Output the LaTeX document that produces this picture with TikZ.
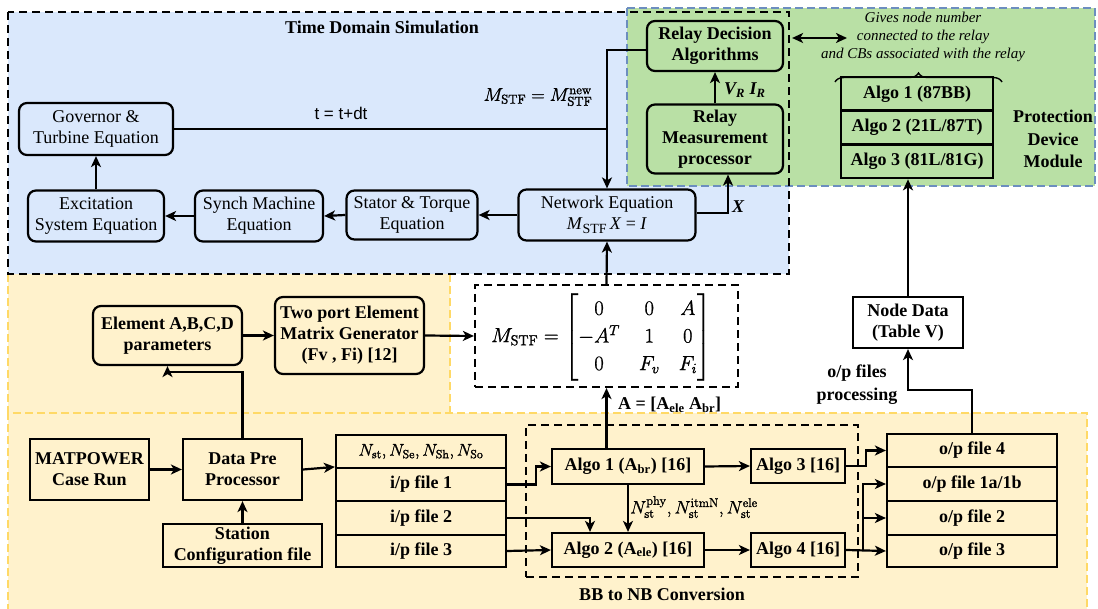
\RequirePackage{fix-cm}
\documentclass[tikz,border=0pt]{standalone}
\usepackage[no-math]{fontspec}
\setmainfont{Liberation Serif}
\newfontfamily\arialfont{Liberation Sans}
\usepackage{amsmath}
\usetikzlibrary{arrows.meta,decorations.pathreplacing}
\definecolor{simblue}{HTML}{DAE8FC}
\definecolor{protgreen}{HTML}{B9E0A5}
\definecolor{prepyellow}{HTML}{FFF2CC}
\definecolor{edgeblue}{HTML}{6C8EBF}
\definecolor{edgeyellow}{HTML}{FFD966}
% thin Computer Modern math gets a light outline stroke so it reads as dark as the text
\newcommand{\heavymath}[1]{\special{pdf:literal direct 2 Tr 0.22 w}#1\special{pdf:literal direct 0 Tr}}
\begin{document}
\begin{tikzpicture}[x=1pt,y=-1pt,
  every node/.style={font=\fontsize{18}{21}\selectfont, inner sep=0pt, align=center},
  rbox/.style={draw, line width=2.2pt, rounded corners=8pt},
  sbox/.style={draw, line width=2.2pt},
  stackbox/.style={draw, line width=2.6pt},
  conn/.style={line width=2.2pt},
  arr/.style={conn, -{Stealth[length=11pt,width=10pt,inset=3pt]}},
  darr/.style={conn, {Stealth[length=11pt,width=10pt,inset=3pt]}-{Stealth[length=11pt,width=10pt,inset=3pt]}},
  blackdash/.style={line width=2.4pt, dash pattern=on 8pt off 5pt},
  yellowdash/.style={draw=edgeyellow, line width=1.5pt, dash pattern=on 8pt off 4pt},
  bluedash/.style={draw=edgeblue, line width=1.8pt, dash pattern=on 8pt off 4pt},
  bf/.style={font=\fontsize{18}{21}\selectfont\bfseries},
  bfit/.style={font=\fontsize{18}{21}\selectfont\bfseries\itshape}
]
\useasboundingbox (0,0) rectangle (1098,609);

% ---- background regions ----
\fill[prepyellow] (8,250) rectangle (450,413);
\draw[yellowdash] (450,274) -- (450,413);
\draw[yellowdash] (8,274) -- (8,413);
\fill[prepyellow] (8,413) rectangle (1087,612);
\draw[yellowdash] (8,612) -- (8,413) -- (1087,413) -- (1087,612);
\fill[simblue] (8,12) rectangle (789,274);
\filldraw[fill=protgreen, bluedash] (627,8) rectangle (1095,186);
\draw[blackdash] (8,12) rectangle (789,274);

% ---- time domain simulation ----
\node[bf] (title) at (382,27) {Time Domain Simulation};
\node[rbox, minimum width=154pt, minimum height=52pt] (gov) at (96,129) {Governor \&\\Turbine Equation};
\node[rbox, minimum width=136pt, minimum height=51pt] (exc) at (96,216) {Excitation\\System Equation};
\node[rbox, minimum width=128pt, minimum height=51pt] (syn) at (259,216) {Synch Machine\\Equation};
\node[rbox, minimum width=131pt, minimum height=49pt] (sta) at (412,215) {Stator \& Torque\\Equation};
\node[rbox, minimum width=177pt, minimum height=51pt] (net) at (607,215)
  {Network Equation\\\textit{M}\raisebox{-4pt}{\fontsize{14}{14}\selectfont STF}\,\textit{X} = \textit{I}};

% ---- relay ----
\node[rbox, bf, minimum width=136pt, minimum height=50pt] (rda) at (715,46) {Relay Decision\\Algorithms};
\node[rbox, bf, minimum width=136pt, minimum height=69pt] (rmp) at (715,139) {Relay\\Measurement\\processor};
\node[anchor=west, bfit] (vi) at (724,90) {V\textsubscript{R} I\textsubscript{R}};
\node[bfit] (xl) at (738,207) {X};

% ---- protection device module ----
\node[stackbox, bf, minimum width=152pt, minimum height=33.7pt] (pa1) at (917,93.8) {Algo 1 (87BB)};
\node[stackbox, bf, minimum width=152pt, minimum height=33.7pt] (pa2) at (917,127.5) {Algo 2 (21L/87T)};
\node[stackbox, bf, minimum width=152pt, minimum height=33.7pt] (pa3) at (917,161.2) {Algo 3 (81L/81G)};
\node[bf, font=\fontsize{18}{22.5}\selectfont\bfseries] (pdm) at (1053,139) {Protection\\Device\\Module};
\node[font=\fontsize{15}{18}\selectfont\itshape] (note) at (923,37)
  {Gives node number\\connected to the relay\\and CBs associated with the relay};
\coordinate (noteL) at (847,38);
\draw[line width=1.4pt, decorate, decoration={brace, amplitude=9pt}] (835,82) -- (1002,82);

% ---- node data ----
\node[sbox, bf, minimum width=110pt, minimum height=51pt] (nd) at (908,322.5) {Node Data\\(Table V)};
\node[bf, font=\fontsize{18}{23}\selectfont\bfseries] (opproc) at (857,385) {o/p files\\processing};

% ---- matrix generation ----
\node[rbox, bf, minimum width=149pt, minimum height=59pt] (elem) at (167.5,335.5) {Element A,B,C,D\\parameters};
\node[rbox, bf, minimum width=149pt, minimum height=77pt] (twop) at (349.5,335.5) {Two port Element\\Matrix Generator\\(Fv , Fi) [12]};
\node[draw, blackdash, line width=2.2pt, minimum width=263pt, minimum height=102pt] (mat) at (606.5,336) {};

% ---- data pre-processing ----
\node[sbox, bf, minimum width=119pt, minimum height=61pt] (mp) at (89.5,469.5) {MATPOWER\\Case Run};
\node[sbox, bf, minimum width=119pt, minimum height=61pt] (dpp) at (242.5,469.5) {Data Pre\\Processor};
\node[sbox, bf, minimum width=159pt, minimum height=43pt] (scf) at (242.5,545.5) {Station\\Configuration file};
\node[sbox, minimum width=170pt, minimum height=33pt] (ip0) at (421,451.5) {};
\node[sbox, bf, minimum width=170pt, minimum height=33pt] (ip1) at (421,484.5) {i/p file 1};
\node[sbox, bf, minimum width=170pt, minimum height=34pt] (ip2) at (421,518) {i/p file 2};
\node[sbox, bf, minimum width=170pt, minimum height=32pt] (ip3) at (421,551) {i/p file 3};

% ---- BB to NB conversion ----
\node[draw, blackdash, line width=2.2pt, minimum width=332pt, minimum height=152pt] (bbnb) at (692,501) {};
\node[bf] (bbnblbl) at (662,594) {BB to NB Conversion};
\node[sbox, bf, minimum width=152pt, minimum height=35pt] (al1) at (628,466.5) {Algo 1 (A\textsubscript{br}) [16]};
\node[sbox, bf, minimum width=94pt, minimum height=34pt] (al3) at (798,466) {Algo 3 [16]};
\node[sbox, bf, minimum width=152pt, minimum height=34pt] (al2) at (628,550) {Algo 2 (A\textsubscript{ele}) [16]};
\node[sbox, bf, minimum width=94pt, minimum height=34pt] (al4) at (798,550) {Algo 4 [16]};

% ---- output files ----
\node[sbox, bf, minimum width=170pt, minimum height=33pt] (op4) at (972,450.5) {o/p file 4};
\node[sbox, bf, minimum width=170pt, minimum height=34pt] (opA) at (972,484) {o/p file 1a/1b};
\node[sbox, bf, minimum width=170pt, minimum height=34pt] (opB) at (972,518) {o/p file 2};
\node[sbox, bf, minimum width=170pt, minimum height=32pt] (opC) at (972,551) {o/p file 3};

% ---- plain labels ----
\node[font=\fontsize{17}{20}\selectfont\arialfont] (tdt) at (341,113) {t = t+dt};
\node[anchor=west, bf] (albl) at (618,405) {A = [A\textsubscript{ele} A\textsubscript{br}]};

% ---- math texts (drawn last) ----
\node[font=\fontsize{20.5}{24}\selectfont] (mateq) at (601,337)
  {\heavymath{$\setlength{\arraycolsep}{9.5pt}\renewcommand{\arraystretch}{1.15}M_{\mathrm{STF}} = \begin{bmatrix} 0 & 0 & A\\ -A^{T} & 1 & 0\\ 0 & F_{v} & F_{i}\end{bmatrix}$}};
\node[font=\fontsize{17}{20}\selectfont] (iptxt) at (ip0) {\heavymath{$N_{\mathrm{st}}, N_{\mathrm{Se}}, N_{\mathrm{Sh}}, N_{\mathrm{So}}$}};
\node[font=\fontsize{18.5}{21}\selectfont] (mnew) at (538,97) {\heavymath{$M_{\mathrm{STF}} = M_{\mathrm{STF}}^{\mathrm{new}}$}};
\node[anchor=west, font=\fontsize{18}{21}\selectfont] (nlbl) at (630,507)
  {\heavymath{$N_{\mathrm{st}}^{\mathrm{phy}}, N_{\mathrm{st}}^{\mathrm{itmN}}, N_{\mathrm{st}}^{\mathrm{ele}}$}};

% ---- connectors: time domain loop ----
\draw[arr] (net.west) -- (sta.east);
\draw[arr] (sta.west) -- (syn.east);
\draw[arr] (syn.west) -- (exc.east);
\draw[arr] (exc.north) -- (gov.south);
\draw[conn] (gov.east) -- (gov.east -| net.north);
\draw[arr] ([yshift=-4pt]rda.west) -| (net.north);
\draw[arr] ([yshift=2pt]net.east) -| ([xshift=13pt]rmp.south);
\draw[arr] (rmp.north) -- (rda.south);
\draw[darr] ([xshift=8pt,yshift=8pt]rda.east) -- (noteL);
\draw[arr] (nd.north) -- (nd.north |- pa3.south);

% ---- connectors: matrix ----
\draw[arr] (elem.east) -- (twop.west);
\draw[arr] (twop.east) -- (mat.west);
\draw[arr] (mat.north) -- (net.south);
\draw[arr] (al1.north -| mat.south) -- (mat.south);

% ---- connectors: pre-processing ----
\draw[arr] (mp.east) -- (dpp.west);
\draw[arr] (scf.north) -- (dpp.south);
\draw[arr] (dpp.north) -- ++(0,-66) -| (elem.south);
\draw[arr] (dpp.east) -- (ip1.north west);
\draw[arr] (ip1.east) -- ++(29,0) |- (al1.west);
\draw[arr] (ip2.east) -| ([xshift=-38pt]al2.north);
\draw[arr] (ip3.east) -- (al2.west);

% ---- connectors: conversion and outputs ----
\draw[arr] (al1.south) -- (al2.north);
\draw[arr] (al1.east) -- (al3.west);
\draw[arr] (al2.east) -- (al4.west);
\draw[arr] (al3.east) -- ++(20,0) |- (op4.west);
\draw[arr] (al4.east) -- (opC.west);
\coordinate (br) at ([xshift=17pt]al4.east);
\draw[arr] (br) |- (opA.west);
\draw[arr] (br) |- (opB.west);
\draw[arr] (op4.north) -- ++(0,-43) -| (nd.south);
\end{tikzpicture}
\end{document}
